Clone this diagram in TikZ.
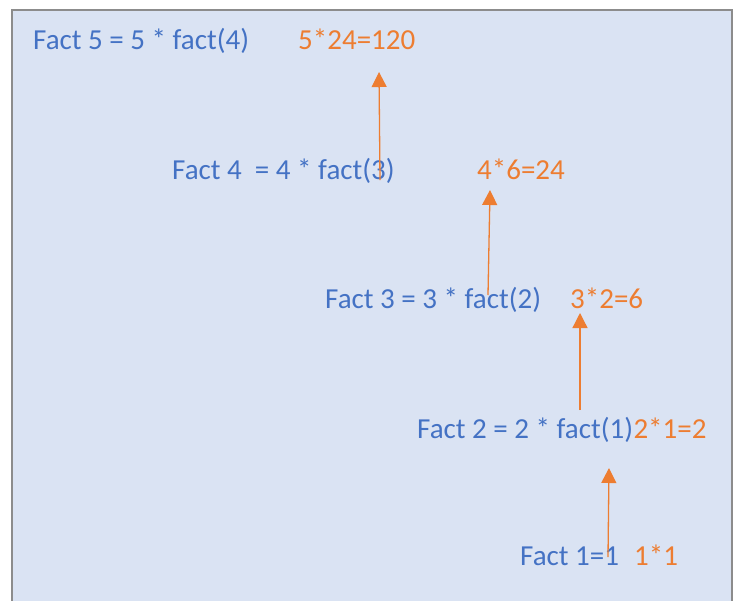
\documentclass[tikz,border=0pt]{standalone}
\usepackage{fontspec}
\setmainfont{Carlito}
\usetikzlibrary{arrows.meta}
\definecolor{callblue}{HTML}{4472C4}
\definecolor{retorange}{HTML}{ED7D31}
\definecolor{panelfill}{HTML}{DAE3F3}
\definecolor{panelline}{HTML}{8C8C8C}
\tikzset{
  call/.style={anchor=base west, inner sep=0pt, text=callblue, font=\fontsize{29}{35}\selectfont},
  result/.style={anchor=base west, inner sep=0pt, text=retorange, font=\fontsize{29}{35}\selectfont},
  ret/.style={retorange, line width=1.3pt, -{Triangle[width=15pt,length=15pt]}}
}
\begin{document}
\begin{tikzpicture}[x=1pt, y=-1pt]
  \useasboundingbox (0,0) rectangle (733,600);
  \draw[panelline, fill=panelfill, line width=1.5pt] (12,10) rectangle (732,615);
  % calls and what they give back
  \node[call] (f5) at (33,49) {Fact 5 = 5 * fact(4)};
  \node[result] (r5) at (298,49) {5*24=120};
  \node[call] (f4) at (172,179) {Fact 4~~= 4 * fact(3)};
  \node[result] (r4) at (477,179) {4*6=24};
  \node[call] (f3) at (325,308) {Fact 3 = 3 * fact(2)};
  \node[result] (r3) at (570,308) {3*2=6};
  \node[call] (f2) at (417,438) {Fact 2 = 2 * fact(1)};
  \node[result] (r2) at (f2.base east) {2*1=2};
  \node[call] (f1) at (520,565) {Fact 1=1};
  \node[result] (r1) at (634,565) {1*1};
  % return arrows
  \coordinate (s4) at (380,180);
  \coordinate (t5) at (379,72);
  \coordinate (s3) at (488,295);
  \coordinate (t4) at (490,190);
  \coordinate (s2) at (580,410);
  \coordinate (t3) at (580,313);
  \coordinate (s1) at (608,557);
  \coordinate (t2) at (609,468);
  \draw[ret] (s4) -- (t5);
  \draw[ret] (s3) -- (t4);
  \draw[ret] (s2) -- (t3);
  \draw[ret] (s1) -- (t2);
\end{tikzpicture}
\end{document}
